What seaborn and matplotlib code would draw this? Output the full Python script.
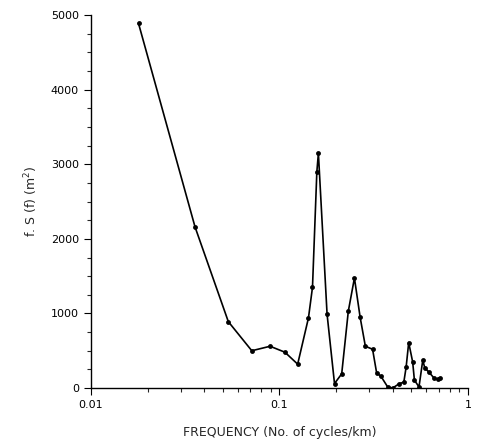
import numpy as np
import pandas as pd
import matplotlib
matplotlib.use("Agg")
import matplotlib.pyplot as plt
import seaborn as sns
from matplotlib.ticker import FixedLocator, MultipleLocator, LogLocator, NullFormatter

# spectrum values
freq = [0.0179, 0.0357, 0.0536, 0.0714, 0.0893, 0.107, 0.125, 0.1426, 0.1498,
        0.158, 0.161, 0.179, 0.196, 0.214, 0.232, 0.25, 0.268, 0.2857, 0.312,
        0.328, 0.345, 0.375, 0.399, 0.43, 0.457, 0.47, 0.485, 0.509, 0.52,
        0.55, 0.576, 0.59, 0.62, 0.66, 0.69, 0.71]
fs = [4890, 2160, 890, 500, 560, 480, 320, 940, 1350,
      2900, 3150, 990, 60, 190, 1030, 1475, 950, 560, 520,
      200, 160, 15, 0, 55, 80, 280, 610, 350, 105,
      15, 375, 270, 215, 135, 120, 135]
xticks = [0.01, 0.1, 1]
xtick_labels = ["0.01", "0.1", "1"]
yticks = [0, 1000, 2000, 3000, 4000, 5000]

df = pd.DataFrame({"freq": freq, "fs": fs})

sns.set_style("ticks")
plt.rcParams["font.family"] = ["DejaVu Sans"]

fig = plt.figure(figsize=(4.78, 4.46), dpi=100)
ax = fig.add_axes([0.190, 0.130, 0.789, 0.836])

sns.lineplot(data=df, x="freq", y="fs", ax=ax, color="black", linewidth=1.2,
             marker="o", markersize=3.5, markeredgewidth=0, sort=False)

ax.set_xscale("log")
ax.set_xlim(0.01, 1)
ax.set_ylim(0, 5000)
ax.xaxis.set_major_locator(FixedLocator(xticks))
ax.set_xticklabels(xtick_labels)
ax.xaxis.set_minor_locator(LogLocator(base=10, subs=np.arange(2, 10)))
ax.xaxis.set_minor_formatter(NullFormatter())
ax.set_yticks(yticks)
ax.yaxis.set_minor_locator(MultipleLocator(250))

ax.tick_params(axis="both", which="major", length=5, width=0.8, labelsize=8, colors="black")
ax.tick_params(axis="both", which="minor", length=3, width=0.8)
sns.despine(ax=ax)
for s in ["left", "bottom"]:
    ax.spines[s].set_linewidth(1.0)
    ax.spines[s].set_color("black")

ax.set_xlabel("FREQUENCY (No. of cycles/km)", fontsize=9, labelpad=12)
ax.set_ylabel("f. S (f) (m$^2$)", fontsize=9, labelpad=8)

fig.savefig("out.png", dpi=100)
